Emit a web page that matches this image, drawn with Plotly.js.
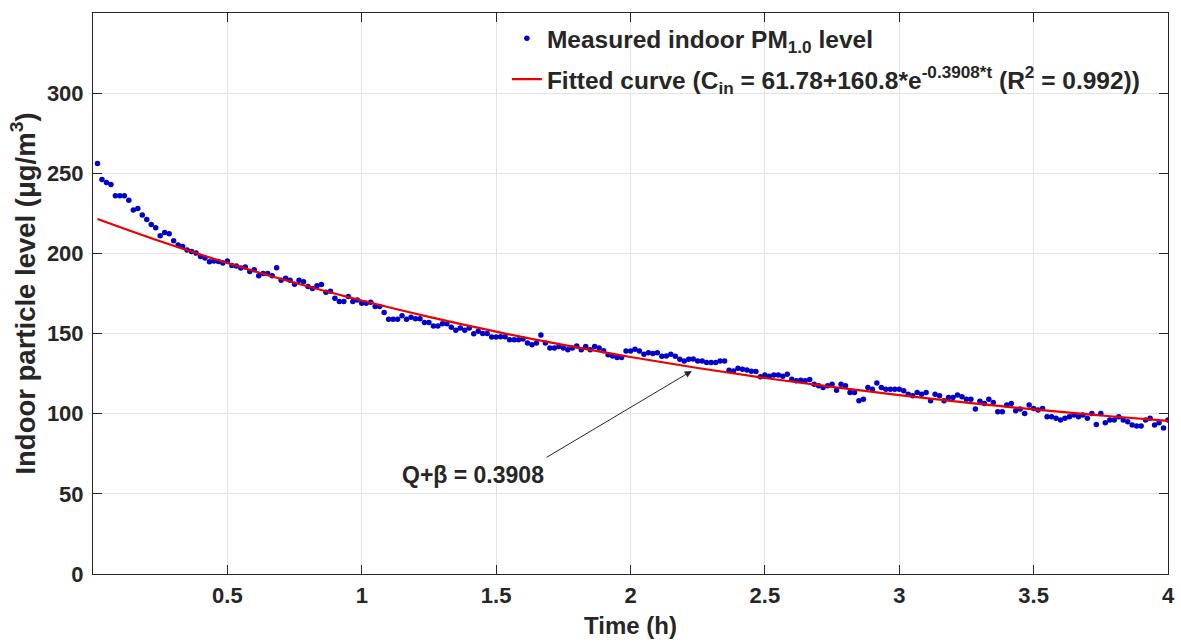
<!DOCTYPE html>
<html>
<head>
<meta charset="utf-8">
<script src="https://cdn.plot.ly/plotly-3.0.1.min.js"></script>
<style>html,body{margin:0;padding:0;background:#fff;}#chart{width:1181px;height:642px;}</style>
</head>
<body>
<div id="chart"></div>
<script>
// Measured indoor PM1.0 level, one reading per minute (µg/m3)
const measuredPM = [
256.1,246.2,244.3,243.0,236.0,236.0,236.0,233.1,227.1,228.1,
224.0,221.1,218.0,216.0,211.0,213.0,212.2,207.9,205.2,204.3,
202.1,201.2,200.2,198.1,197.1,194.8,195.2,195.0,194.0,195.2,
192.5,192.1,190.9,191.5,188.8,189.8,186.1,187.4,187.4,186.1,
191.1,183.2,184.5,183.2,180.7,183.2,182.4,179.3,178.1,179.9,
180.6,175.8,176.4,172.0,170.0,170.0,173.1,170.0,171.0,168.9,
168.9,169.5,166.9,166.9,163.2,159.0,159.0,159.0,161.1,159.0,
160.2,159.2,159.2,156.9,156.9,154.8,154.8,156.1,156.1,154.0,
152.0,153.4,152.0,153.4,149.9,151.4,150.1,150.1,147.8,147.8,
148.0,148.0,146.2,146.2,146.2,146.6,144.1,143.0,144.1,149.1,
144.1,141.0,141.0,142.0,141.0,139.9,141.0,142.2,139.9,142.0,
139.9,142.0,141.0,139.3,136.8,136.0,135.0,135.0,139.1,139.1,
140.2,139.1,137.1,138.1,137.5,138.1,135.8,136.0,137.1,135.8,
134.0,132.9,134.0,134.2,132.9,132.9,131.9,131.9,131.9,132.9,
132.9,127.1,126.7,128.4,127.7,127.3,126.5,126.3,123.0,124.2,
123.4,124.2,124.2,123.4,124.6,121.5,120.5,120.9,120.5,121.3,
118.4,117.4,116.3,117.4,118.4,114.7,118.4,117.4,113.2,113.2,
108.1,109.1,116.3,115.3,119.2,116.4,115.3,115.3,115.3,115.3,
114.3,112.2,111.2,113.3,112.2,113.3,108.1,112.2,111.2,108.1,
110.1,110.1,111.6,110.6,109.1,109.1,102.9,107.7,106.4,109.1,
107.0,101.2,101.2,105.4,106.4,101.9,102.9,100.2,105.4,103.3,
102.3,103.3,98.1,98.1,97.1,96.1,97.1,98.1,99.2,98.1,
99.2,97.1,100.2,93.2,100.2,94.4,96.1,96.1,98.1,96.1,
95.0,93.0,92.3,92.3,96.1,97.1,93.0,94.4,91.1,96.1
];
// Minutes per reading and time unit
const minutesPerHour = 60;
const measuredTime = measuredPM.map((v, i) => (i + 1) / minutesPerHour);

// Fitted curve, values
const fitTime  = [0.0167,0.25,0.5,0.75,1,1.25,1.5,1.75,2,2.25,2.5,2.75,3,3.25,3.5,3.75,4];
const fitValue = [221.5,207.6,194.0,181.7,170.6,160.4,151.2,142.9,135.4,128.5,122.3,116.7,111.6,106.9,102.7,98.9,95.5];

const xTickVals = [0.5,1,1.5,2,2.5,3,3.5,4];
const yTickVals = [0,50,100,150,200,250,300];

const FONT = 'Liberation Sans, Arial, Helvetica, sans-serif';
const TXT = '#262626';
const f = (s) => ({family: FONT, size: s, color: TXT, weight: 'bold'});

const traces = [
  {
    x: measuredTime, y: measuredPM, type: 'scatter', mode: 'markers',
    name: 'Measured indoor PM<sub>1.0</sub> level', legendgroup: 'a',
    marker: {color: 'rgb(0,0,200)', size: 5.5}
  },
  {
    x: fitTime, y: fitValue, type: 'scatter', mode: 'lines',
    name: 'Fitted curve (C<sub>in</sub> = 61.78+160.8*e<sup>-0.3908*t</sup> (R<sup>2</sup> = 0.992))',
    legendgroup: 'b',
    line: {color: 'rgb(235,0,0)', width: 2.2, shape: 'spline'}
  }
];

const axisCommon = {
  ticks: 'inside', ticklen: 9, tickwidth: 1, tickcolor: TXT,
  showline: true, linecolor: TXT, linewidth: 1, mirror: 'ticks',
  showgrid: true, gridcolor: '#e3e3e3', gridwidth: 1, zeroline: false,
  tickfont: f(22)
};

const layout = {
  width: 1181, height: 642,
  margin: {l: 93, r: 13, t: 13, b: 68, pad: 0},
  paper_bgcolor: '#fff', plot_bgcolor: '#fff',
  showlegend: true,
  legend: {
    x: 0.385, y: 0.995, xanchor: 'left', yanchor: 'top',
    bgcolor: 'rgba(0,0,0,0)', borderwidth: 0,
    font: f(24.5), tracegroupgap: 6
  },
  xaxis: Object.assign({}, axisCommon, {
    range: [0, 4], tickmode: 'array', tickvals: xTickVals,
    ticklabelstandoff: 2,
    title: {text: 'Time (h)', font: f(24), standoff: 9}
  }),
  yaxis: Object.assign({}, axisCommon, {
    range: [0, 350], tickmode: 'array', tickvals: yTickVals,
    ticklabelstandoff: 4,
    title: {text: 'Indoor particle level (μg/m<sup>3</sup>)', font: f(27.5), standoff: 3}
  }),
  annotations: [
    {x: 1.414, y: 61.5, xref: 'x', yref: 'y', text: 'Q+β = 0.3908',
     showarrow: false, font: f(23)},
    {x: 2.228, y: 126.7, ax: 1.682, ay: 72.2, xref: 'x', yref: 'y', axref: 'x', ayref: 'y',
     text: '', showarrow: true, arrowhead: 2, arrowsize: 1.4, arrowwidth: 1, arrowcolor: TXT}
  ]
};

Plotly.newPlot('chart', traces, layout, {staticPlot: true, displayModeBar: false});
</script>
</body>
</html>
